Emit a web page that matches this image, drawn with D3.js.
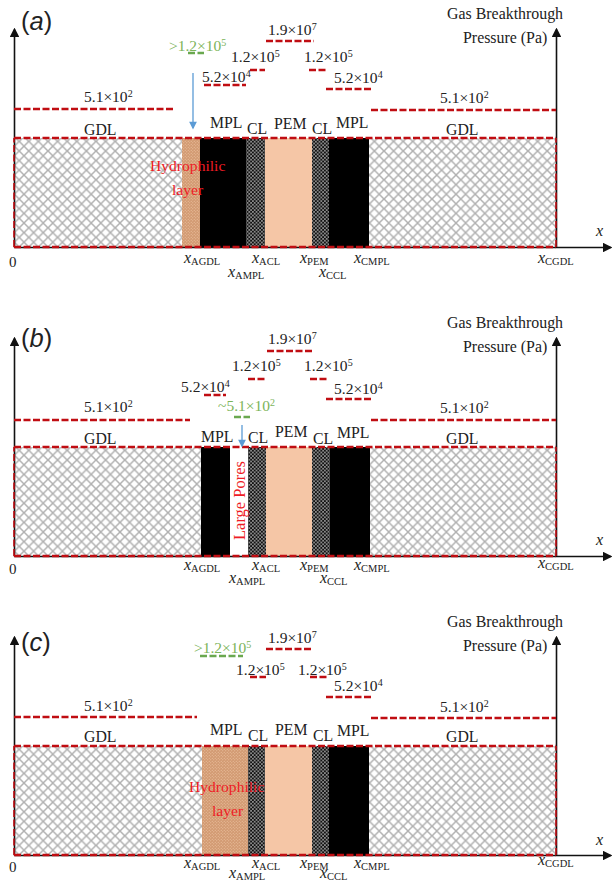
<!DOCTYPE html>
<html>
<head>
<meta charset="utf-8">
<script src="https://d3js.org/d3.v7.min.js"></script>
<style>
  html, body { margin: 0; padding: 0; background: #fff; }
  svg { display: block; }
  text { font-family: "Liberation Serif", serif; fill: #222; }
</style>
</head>
<body>
<svg id="chart" width="612" height="882"></svg>
<script>
// layer stacks: [kind, start, end], measured along the cell from x = 0
const aLayers = [["gdl",0,168],["phil",168,186],["mpl",186,232],["cl",232,251],["pem",251,298],["cl",298,315],["mpl",315,355],["gdl",355,542]]
const bLayers = [["gdl",0,187],["mpl",187,216],["pores",216,234],["cl",234,252],["pem",252,298],["cl",298,316],["mpl",316,356],["gdl",356,542]]
const cLayers = [["gdl",0,188],["phil",188,234],["cl",234,251],["pem",251,298],["cl",298,315],["mpl",315,355],["gdl",355,542]]

// breakthrough levels: [start, end, height above the x axis]
const aLevels = [[0,161,138],[190,232,162],[236,251,177],[252,300,206],[295,313,177],[312,358,158],[357,542,137]]
const bLevels = [[0,176,136],[190,212,161],[234,252,177],[253,299,205],[296,313,177],[312,358,157],[357,542,136]]
const cLevels = [[0,183,138],[236,252,178],[252,299,206],[296,313,178],[312,358,158],[357,542,137]]
// the green estimated level of each panel
const aGreen = [174,190,194]
const bGreen = [220,236,139]
const cGreen = [186,229,199]

// pressure labels, same order as the levels
const aPressures = [["5.1","2"],["5.2","4"],["1.2","5"],["1.9","7"],["1.2","5"],["5.2","4"],["5.1","2"]]
const bPressures = [["5.1","2"],["5.2","4"],["1.2","5"],["1.9","7"],["1.2","5"],["5.2","4"],["5.1","2"]]
const cPressures = [["5.1","2"],["1.2","5"],["1.9","7"],["1.2","5"],["5.2","4"],["5.1","2"]]
const aGreenLabel = [">1.2","5"]
const bGreenLabel = ["~5.1","2"]
const cGreenLabel = [">1.2","5"]

const layerLabels = ["GDL","MPL","CL","PEM","CL","MPL","GDL"]
const tickNames = ["AGDL","AMPL","ACL","PEM","CCL","CMPL","CGDL"]

const axisTop = 218   // arrow tip height
const layerHeight = 109
const pageWidth = 612

const margin = {left:14, axisRight:556}
const x = d3.scaleLinear().domain([0,542]).range([margin.left, margin.axisRight])
const xLong = d3.scaleLinear().domain([0,pageWidth - 2 - margin.left]).range([margin.left, pageWidth - 2])
const y = d3.scaleLinear().domain([0,axisTop]).range([0,-axisTop])

const svg = d3.select("#chart")
const defs = svg.append("defs")

const marker = defs.append("marker").attr("id","tip")
  .attr("viewBox","0 0 10 10").attr("refX",8).attr("refY",5)
  .attr("markerWidth",6).attr("markerHeight",6).attr("markerUnits","strokeWidth")
  .attr("orient","auto")
marker.append("path").attr("d","M0,0L10,5L0,10Z").attr("fill","#111")

const blueTip = defs.append("marker").attr("id","blueTip")
  .attr("viewBox","0 0 10 10").attr("refX",8).attr("refY",5)
  .attr("markerWidth",7).attr("markerHeight",6)
  .attr("orient","auto")
blueTip.append("path").attr("d","M0,0L10,5L0,10Z").attr("fill","#5b9bd5")

// porous gdl
const gdlPat = defs.append("pattern").attr("id","gdlPat").attr("patternUnits","userSpaceOnUse")
  .attr("width",9.6).attr("height",9.6)
gdlPat.append("rect").attr("width",9.6).attr("height",9.6).attr("fill","#fff")
gdlPat.append("path").attr("d","M-1,-1L10.6,10.6M-1,10.6L10.6,-1")
  .attr("stroke","#b0b0b0").attr("stroke-width",1.5).attr("fill","none")

// catalyst layer dots
const clPat = defs.append("pattern").attr("id","clPat").attr("patternUnits","userSpaceOnUse")
  .attr("width",3.6).attr("height",3.6)
clPat.append("rect").attr("width",3.6).attr("height",3.6).attr("fill","#111")
clPat.selectAll("circle").data([[0.9,0.9],[2.7,2.7]]).enter().append("circle")
  .attr("cx",d => d[0]).attr("cy",d => d[1]).attr("r",0.8).attr("fill","#c4c4c4")

// hydrophilic layer dots
const philPat = defs.append("pattern").attr("id","philPat").attr("patternUnits","userSpaceOnUse")
  .attr("width",3).attr("height",3)
philPat.append("rect").attr("width",3).attr("height",3).attr("fill","#d29a72")
philPat.selectAll("circle").data([[0.75,0.75],[2.25,2.25]]).enter().append("circle")
  .attr("cx",d => d[0]).attr("cy",d => d[1]).attr("r",0.55).attr("fill","#efc6a6")

const layerFill = {gdl:"url(#gdlPat)", phil:"url(#philPat)", mpl:"#000", cl:"url(#clPat)", pem:"#f5c6a6", pores:"#fff"}

// text with a raised exponent
function pressureText(g, pos, p, color) {
  const t = g.append("text").attr("x",pos[0]).attr("y",pos[1]).style("font-size","15.5px")
  if (color) t.style("fill",color)
  t.append("tspan").text(p[0] + "×10")
  t.append("tspan").attr("dy",-5).style("font-size","10px").text(p[1])
}

function plainText(g, s, pos, size, color) {
  const t = g.append("text").attr("x",pos[0]).attr("y",pos[1]).style("font-size",size + "px").text(s)
  if (color) t.style("fill",color)
  return t
}

// x with subscript
function tickText(g, name, pos) {
  const t = g.append("text").attr("x",pos[0]).attr("y",pos[1])
  t.append("tspan").style("font-size","16px").style("font-style","italic").text("x")
  t.append("tspan").attr("dy",2).style("font-size","10.5px").text(name)
}

function drawPanel(p) {
  const g = svg.append("g").attr("transform","translate(0,"+p.baseline+")")

  g.selectAll(".layer").data(p.layers).enter().append("rect")
    .attr("class","layer")
    .attr("x",d => x(d[1]))
    .attr("width",d => x(d[2]) - x(d[1]))
    .attr("y",y(layerHeight))
    .attr("height",layerHeight)
    .attr("fill",d => layerFill[d[0]])

  // axes with no ticks, the labels are rich text below
  g.append("g").call(d3.axisBottom(xLong).tickValues([]).tickSizeOuter(0))
    .select(".domain").attr("stroke","#111").attr("stroke-width",1.6).attr("marker-end","url(#tip)")
  g.append("g").attr("transform","translate("+margin.left+",0)")
    .call(d3.axisLeft(y).tickValues([]).tickSizeOuter(0))
    .select(".domain").attr("stroke","#111").attr("stroke-width",1.6).attr("marker-end","url(#tip)")
  g.append("g").attr("transform","translate("+margin.axisRight+",0)")
    .call(d3.axisRight(y).tickValues([]).tickSizeOuter(0))
    .select(".domain").attr("stroke","#111").attr("stroke-width",1.6).attr("marker-end","url(#tip)")

  // red dashed outline of the liquid free region
  const red = "#c00d12"
  const outline = [[0,542,layerHeight],[0,542,0]]
  g.selectAll(".edge").data(outline).enter().append("line")
    .attr("x1",d => x(d[0])).attr("x2",d => x(d[1]))
    .attr("y1",d => y(d[2])).attr("y2",d => y(d[2]))
    .attr("stroke",red).attr("stroke-width",2.4).attr("stroke-dasharray","7 2.5")
  g.selectAll(".side").data([0,542]).enter().append("line")
    .attr("x1",d => x(d)).attr("x2",d => x(d))
    .attr("y1",y(0)).attr("y2",y(layerHeight))
    .attr("stroke",red).attr("stroke-width",1.6).attr("stroke-dasharray","7 2.5")

  g.selectAll(".level").data(p.levels).enter().append("line")
    .attr("x1",d => x(d[0])).attr("x2",d => x(d[1]))
    .attr("y1",d => y(d[2])).attr("y2",d => y(d[2]))
    .attr("stroke",red).attr("stroke-width",2.4).attr("stroke-dasharray","7 2.5")

  g.append("line")
    .attr("x1",x(p.green[0])).attr("x2",x(p.green[1]))
    .attr("y1",y(p.green[2])).attr("y2",y(p.green[2]))
    .attr("stroke","#6aa84f").attr("stroke-width",2.4).attr("stroke-dasharray","7 2.5")

  // page level text
  const top = svg.append("g")
  p.pressures.forEach((d,i) => pressureText(top, p.pressureAt[i], d))
  pressureText(top, p.greenAt, p.greenLabel, "#7cb45a")
  layerLabels.forEach((d,i) => plainText(top, d, p.layerAt[i], 15.8))

  tickNames.forEach((d,i) => tickText(top, d, p.tickAt[i]))
  plainText(top, "0", p.zeroAt, 15)
  const xl = plainText(top, "x", p.xAt, 16)
  xl.style("font-style","italic")

  if (p.arrow) {
    top.append("line")
      .attr("x1",p.arrow[0]).attr("x2",p.arrow[0])
      .attr("y1",p.arrow[1]).attr("y2",p.arrow[2])
      .attr("stroke","#5b9bd5").attr("stroke-width",1.3).attr("marker-end","url(#blueTip)")
  }

  // panel letter
  const letter = top.append("text").attr("x",21).attr("y",p.letterY)
    .style("font-family","'Liberation Sans',sans-serif").style("font-size","25.5px")
  letter.append("tspan").text("(")
  letter.append("tspan").style("font-style","italic").text(p.letter)
  letter.append("tspan").text(")")

  plainText(top, "Gas Breakthrough", p.gasAt[0], 15.9)
  plainText(top, "Pressure (Pa)", p.gasAt[1], 15.9)

  p.notes.forEach(n => {
    const t = plainText(top, n.s, n.at, n.size || 15.6, "#ee1c25")
    if (n.rotate) t.attr("transform","rotate(-90,"+n.at[0]+","+n.at[1]+")")
  })
}

drawPanel({
  letter:"a", baseline:247, letterY:30, layers:aLayers, levels:aLevels, green:aGreen,
  pressures:aPressures, greenLabel:aGreenLabel,
  pressureAt:[[84,102],[202,82],[231,62],[268,35],[304,62],[334,83],[440,103]],
  greenAt:[169,51],
  layerAt:[[84,135],[210,128],[247,134],[274,129],[312,134],[336,128],[446,135]],
  tickAt:[[184,263],[228,277],[252,263],[300,263],[319,277],[354,263],[538,263]],
  zeroAt:[9,267], xAt:[596,236], arrow:[193,73,128],
  gasAt:[[447,19],[463,43]],
  notes:[{s:"Hydrophilic",at:[150,171]},{s:"layer",at:[172,195]}]
})

drawPanel({
  letter:"b", baseline:556, letterY:347, layers:bLayers, levels:bLevels, green:bGreen,
  pressures:bPressures, greenLabel:bGreenLabel,
  pressureAt:[[84,412],[181,392],[232,371],[268,344],[304,371],[334,394],[440,413]],
  greenAt:[218,411],
  layerAt:[[84,444],[201,442],[248,443],[275,437],[313,444],[337,438],[446,444]],
  tickAt:[[184,570],[229,583],[252,570],[300,570],[320,583],[354,570],[538,568]],
  zeroAt:[9,574], xAt:[596,545], arrow:[242,425,446],
  gasAt:[[447,328],[463,352]],
  notes:[{s:"Large Pores",at:[245,540],rotate:true,size:16.5}]
})

drawPanel({
  letter:"c", baseline:855, letterY:651, layers:cLayers, levels:cLevels, green:cGreen,
  pressures:cPressures, greenLabel:cGreenLabel,
  pressureAt:[[84,711],[236,675],[268,643],[298,675],[334,691],[440,712]],
  greenAt:[194,653],
  layerAt:[[84,742],[210,735],[248,741],[275,735],[313,741],[337,736],[446,742]],
  tickAt:[[184,868],[229,878],[252,868],[300,868],[320,878],[354,868],[538,865]],
  zeroAt:[9,872], xAt:[596,845],
  gasAt:[[447,627],[463,651]],
  notes:[{s:"Hydrophilic",at:[189,792]},{s:"layer",at:[212,816]}]
})
</script>
</body>
</html>
